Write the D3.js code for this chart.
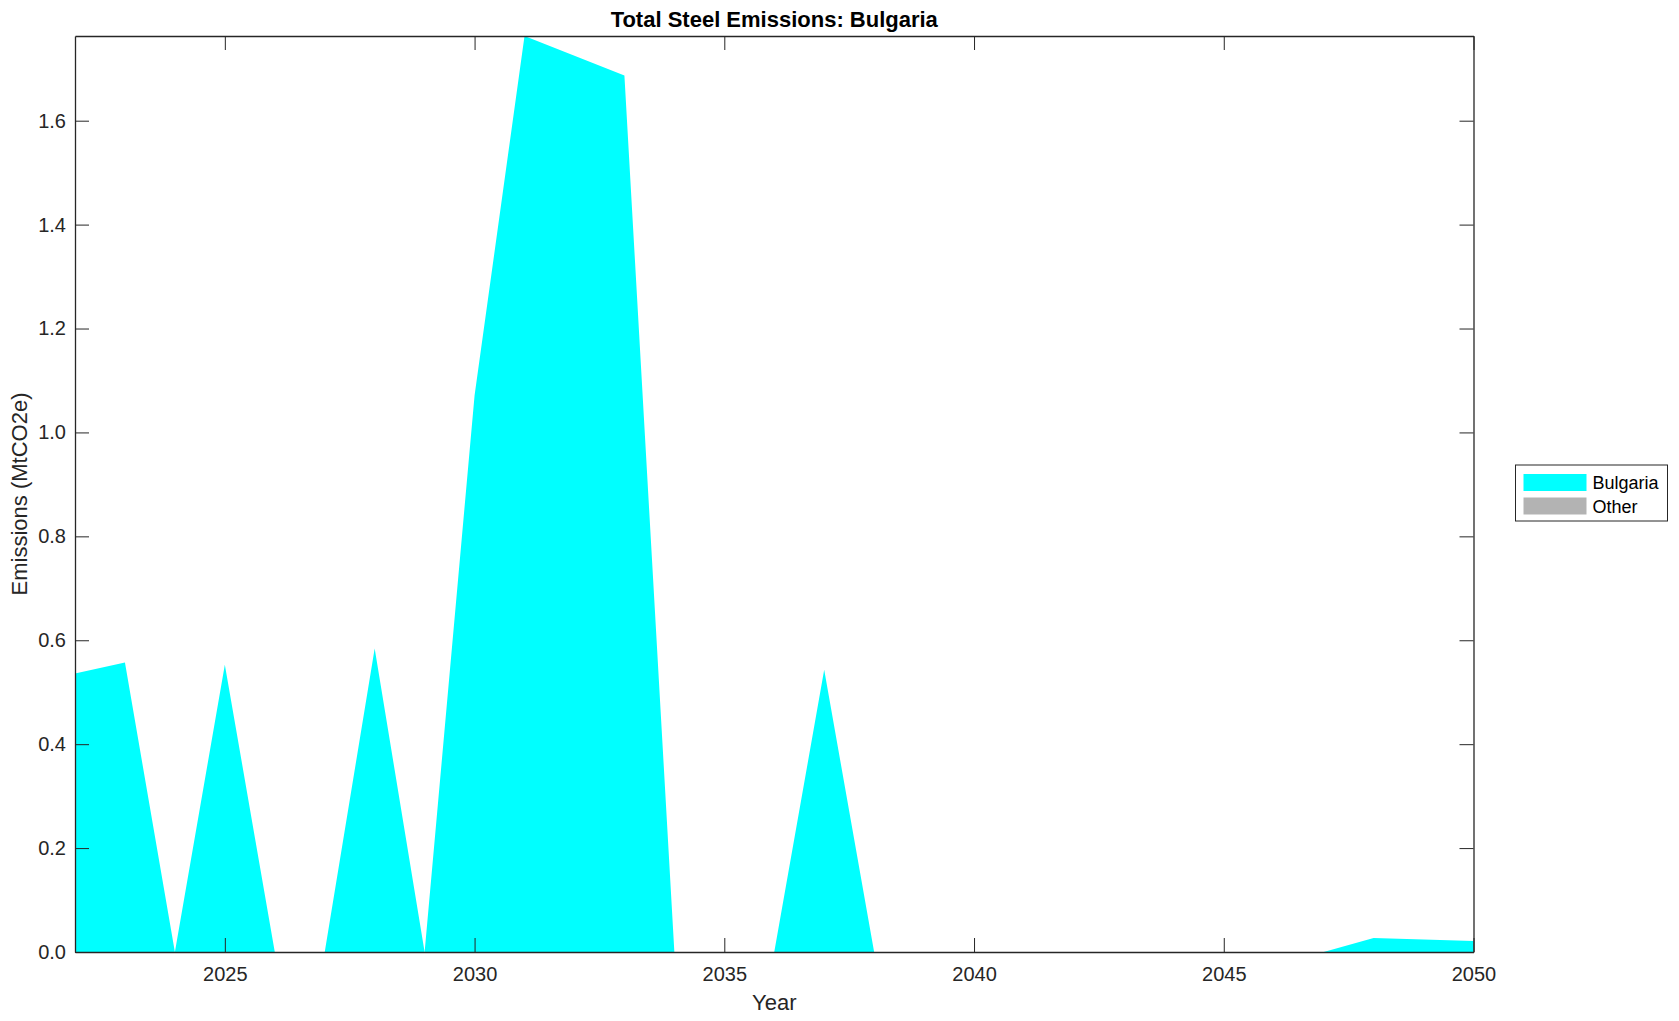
<!DOCTYPE html>
<html>
<head>
<meta charset="utf-8">
<script src="https://cdn.jsdelivr.net/npm/d3@7"></script>
<style>
body{margin:0;background:#fff;}
svg{font-family:"Liberation Sans",Arial,Helvetica,sans-serif;}
</style>
</head>
<body>
<div id="chart"></div>
<script>
const years=[2022,2023,2024,2025,2026,2027,2028,2029,2030,2031,2032,2033,2034,2035,2036,2037,2038,2039,2040,2041,2042,2043,2044,2045,2046,2047,2048,2049,2050];
const bulgaria=[0.536,0.557,0,0.553,0,0,0.584,0,1.071,1.763,1.725,1.687,0,0,0,0.543,0,0,0,0,0,0,0,0,0,0,0.027,0.024,0.021];
const other=years.map(()=>0);
const seriesNames=["Bulgaria","Other"];
const seriesColors=["#00ffff","#b3b3b3"];
const xTicks=[2025,2030,2035,2040,2045,2050];
const yTicks=[0,0.2,0.4,0.6,0.8,1.0,1.2,1.4,1.6];

const W=1679,H=1021;
const m={left:75,right:1473.5,top:36,bottom:952};
const axisColor="#262626";

window.onload=()=>{
  const svg=d3.select("#chart").append("svg").attr("width",W).attr("height",H);

  const rows=years.map((y,i)=>({year:y,Bulgaria:bulgaria[i],Other:other[i]}));
  const stacked=d3.stack().keys(seriesNames)(rows);
  const yMax=d3.max(stacked[stacked.length-1],d=>d[1]);

  const x=d3.scaleLinear().domain([2022,2050]).range([m.left,m.right]);
  const y=d3.scaleLinear().domain([0,yMax]).range([m.bottom,m.top]);

  const area=d3.area()
    .x(d=>x(d.data.year))
    .y0(d=>y(d[0]))
    .y1(d=>y(d[1]));

  svg.append("g").selectAll("path")
    .data(stacked)
    .enter()
    .append("path")
    .attr("fill",(d,i)=>seriesColors[i])
    .attr("d",area);

  // axes with inward ticks on all four sides
  const tick=14;
  const fmt=d3.format(".1f");
  const bottom=svg.append("g").attr("transform",`translate(0,${m.bottom})`)
    .call(d3.axisBottom(x).tickValues(xTicks).tickFormat(d3.format("d")).tickSizeInner(-tick).tickSizeOuter(0).tickPadding(15));
  const top=svg.append("g").attr("transform",`translate(0,${m.top})`)
    .call(d3.axisTop(x).tickValues(xTicks).tickFormat("").tickSizeInner(-tick).tickSizeOuter(0));
  const left=svg.append("g").attr("transform",`translate(${m.left},0)`)
    .call(d3.axisLeft(y).tickValues(yTicks).tickFormat(fmt).tickSizeInner(-tick).tickSizeOuter(0).tickPadding(9));
  const right=svg.append("g").attr("transform",`translate(${m.right},0)`)
    .call(d3.axisRight(y).tickValues(yTicks).tickFormat("").tickSizeInner(-tick).tickSizeOuter(0));

  [bottom,top,left,right].forEach(g=>{
    g.select(".domain").attr("stroke",axisColor).attr("stroke-width",1.3);
    g.selectAll(".tick line").attr("stroke",axisColor).attr("stroke-width",1);
    g.selectAll(".tick text").attr("fill",axisColor).style("font-size","20px").style("font-family","inherit");
  });

  svg.append("text")
    .attr("x",(m.left+m.right)/2).attr("y",27)
    .attr("text-anchor","middle")
    .style("font-size","22px").style("font-weight","bold")
    .attr("fill","#000")
    .text("Total Steel Emissions: Bulgaria");

  svg.append("text")
    .attr("x",(m.left+m.right)/2).attr("y",1010)
    .attr("text-anchor","middle")
    .style("font-size","22px")
    .attr("fill",axisColor)
    .text("Year");

  svg.append("text")
    .attr("transform",`translate(27,${(m.top+m.bottom)/2}) rotate(-90)`)
    .attr("text-anchor","middle")
    .style("font-size","22px")
    .attr("fill",axisColor)
    .text("Emissions (MtCO2e)");

  // legend
  const lg=svg.append("g").attr("transform","translate(1515.5,465)");
  lg.append("rect").attr("width",152).attr("height",56)
    .attr("fill","#fff").attr("stroke",axisColor).attr("stroke-width",1);
  seriesNames.forEach((name,i)=>{
    lg.append("rect").attr("x",8).attr("y",9+i*23.5).attr("width",63).attr("height",17)
      .attr("fill",seriesColors[i]);
    lg.append("text").attr("x",77).attr("y",24+i*23.5)
      .style("font-size","18px").attr("fill","#000")
      .text(name);
  });
};
</script>
</body>
</html>
